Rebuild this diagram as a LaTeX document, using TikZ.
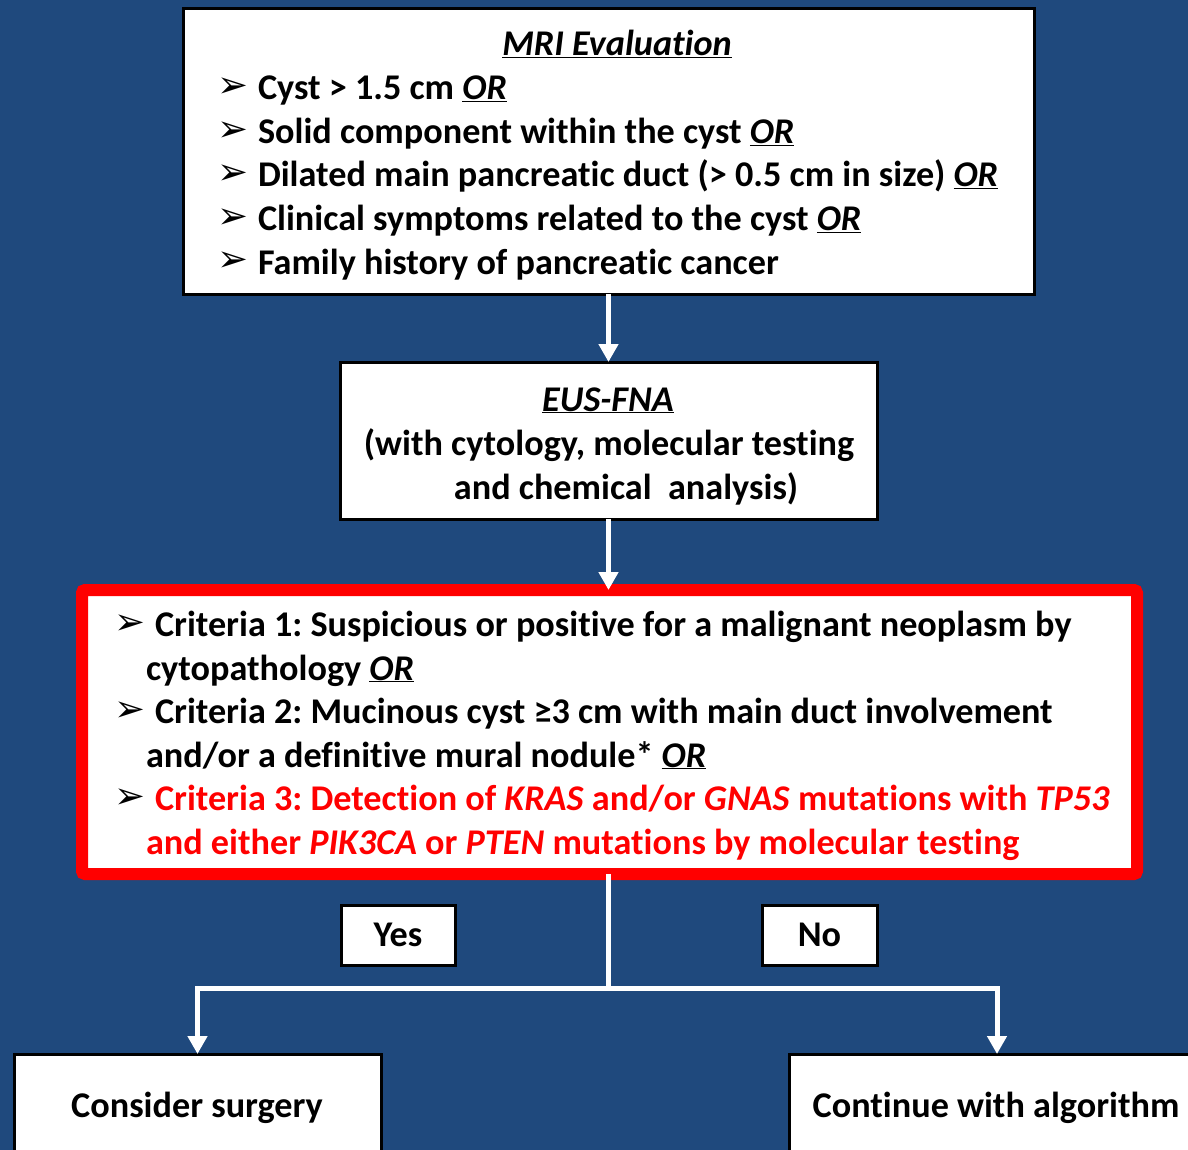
\documentclass[tikz,border=0pt]{standalone}
\usepackage{fontspec}
\setmainfont[Ligatures={NoCommon}]{Carlito}
\newfontfamily\dejavu{DejaVu Sans}
\usetikzlibrary{arrows.meta}
\definecolor{bgblue}{RGB}{31,73,125}
\definecolor{critred}{RGB}{255,0,0}
\frenchspacing
\newcommand{\bul}{{\dejavu\fontsize{37}{37}\selectfont ➢}}
\newcommand{\orr}{\underline{\textit{OR}}}
\begin{document}
\begin{tikzpicture}[x=1pt,y=-1pt,
  every node/.style={inner sep=0pt,outer sep=0pt},
  txt/.style={font=\fontsize{36.2}{43}\bfseries\selectfont,anchor=base west},
  ctxt/.style={font=\fontsize{36.2}{43}\bfseries\selectfont,anchor=base},
  blt/.style={anchor=base west},
  bbox/.style={draw=black,line width=3pt,fill=white},
  wline/.style={draw=white,line width=5pt},
  arr/.style={wline,-{Triangle[width=19pt,length=18pt]}}
]
\useasboundingbox (0,0) rectangle (1188,1150);
\fill[bgblue] (0,0) rectangle (1188,1150);
\begin{scope}
\clip (0,0) rectangle (1188,1150);
% boxes
\node[bbox,minimum width=851pt,minimum height=285pt] (mri) at (608.5,151.5) {};
\node[bbox,minimum width=537pt,minimum height=157pt] (eus) at (608.5,440.5) {};
\node[draw=critred,line width=12pt,fill=white,rounded corners=3pt,minimum width=1055pt,minimum height=284pt] (crit) at (609.5,732) {};
\node[bbox,minimum width=114pt,minimum height=60pt,font=\fontsize{36.2}{43}\bfseries\selectfont] (yes) at (398,935) {Yes};
\node[bbox,minimum width=115pt,minimum height=60pt,font=\fontsize{36.2}{43}\bfseries\selectfont] (no) at (819.5,935) {No};
\node[bbox,minimum width=367pt,minimum height=140pt] (cons) at (197.5,1124) {};
\node[bbox,minimum width=416pt,minimum height=140pt] (cont) at (997,1124) {};
\end{scope}
% MRI text
\node[ctxt] (mrit) at (617,56) {\underline{\textit{MRI Evaluation}}};
\node[blt] (b1) at (217,98) {\bul};
\node[txt] (m1) at (258,100) {Cyst > 1.5 cm \orr};
\node[blt] (b2) at (217,142) {\bul};
\node[txt] (m2) at (258,144) {Solid component within the cyst \orr};
\node[blt] (b3) at (217,185) {\bul};
\node[txt] (m3) at (258,187) {Dilated main pancreatic duct (> 0.5 cm in size) \orr};
\node[blt] (b4) at (217,229) {\bul};
\node[txt] (m4) at (258,231) {Clinical symptoms related to the cyst \orr};
\node[blt] (b5) at (217,272) {\bul};
\node[txt] (m5) at (258,274) {Family history of pancreatic cancer};
% EUS text
\node[ctxt] (e1) at (608,411) {\underline{\textit{EUS-FNA}}};
\node[ctxt] (e2) at (609,455) {(with cytology, molecular testing};
\node[ctxt] (e3) at (626,499) {and chemical\ \ analysis)};
% criteria text
\node[blt] (c1b) at (114,634) {\bul};
\node[txt] (c1) at (155,636) {Criteria 1: Suspicious or positive for a malignant neoplasm by};
\node[txt] (c1c) at (146,680) {cytopathology \orr};
\node[blt] (c2b) at (114,721) {\bul};
\node[txt] (c2) at (155,723) {Criteria 2: Mucinous cyst ≥3 cm with main duct involvement};
\node[txt] (c2c) at (146,767) {and/or a definitive mural nodule* \orr};
\node[blt] (c3b) at (114,808) {\bul};
\node[txt,text=critred] (c3) at (155,810) {Criteria 3: Detection of \textit{KRAS} and/or \textit{GNAS} mutations with \textit{TP53}};
\node[txt,text=critred] (c3c) at (146,854) {and either \textit{PIK3CA} or \textit{PTEN} mutations by molecular testing};
% outcome text
\node[ctxt] (consT) at (197,1117) {Consider surgery};
\node[ctxt] (contT) at (996,1117) {Continue with algorithm};
% connectors
\coordinate (j) at (608,988);
\draw[arr] (mri.south) -- (eus.north);
\draw[arr] (eus.south) -- (eus.south |- crit.north);
\draw[wline] (crit.south -| j) -- (j);
\draw[arr] ([xshift=2.5pt]j) -| (cons.north);
\draw[arr] ([xshift=-2.5pt]j) -| (cont.north);
\end{tikzpicture}
\end{document}
